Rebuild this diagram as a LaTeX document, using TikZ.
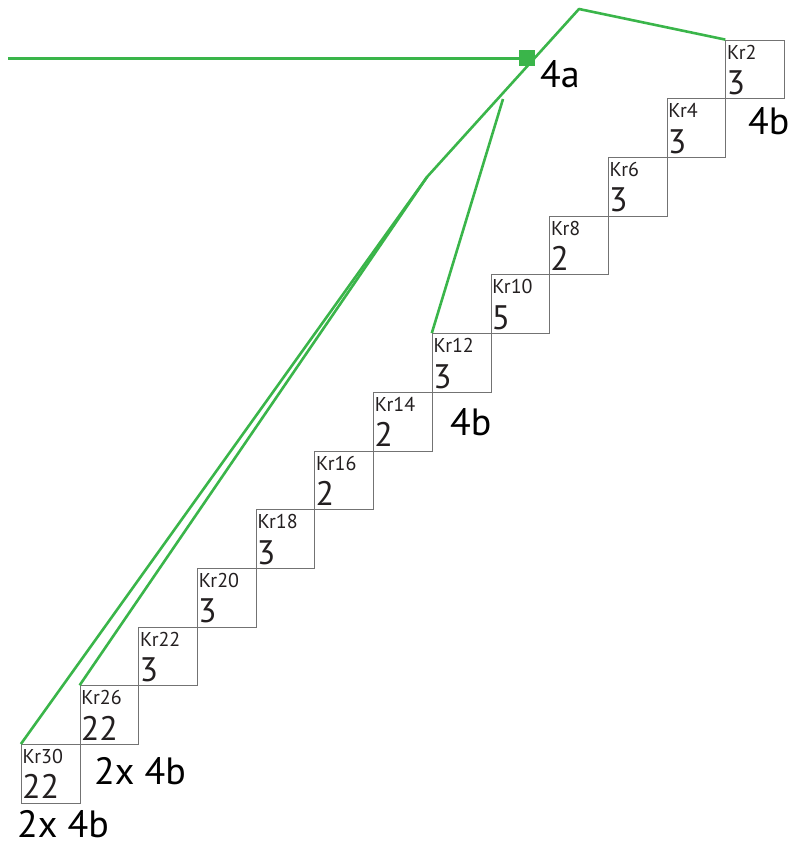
\documentclass[tikz,border=0pt]{standalone}
\usepackage{fontspec}
\setmainfont{PT Sans}
\usepackage{tikz}
\usetikzlibrary{calc}
\definecolor{kgreen}{HTML}{3AB54A}
\definecolor{ktext}{HTML}{231F20}
\tikzset{kbox/.style={draw=black!55,line width=.8pt,minimum size=58.7pt,inner sep=0pt},
kr/.style={anchor=base west,inner sep=0pt,xshift=1.6pt,yshift=-19.5pt,font=\fontsize{20}{20}\selectfont,text=ktext},
num/.style={anchor=base west,inner sep=0pt,xshift=1pt,yshift=4.6pt,font=\fontsize{34}{34}\selectfont,text=ktext},
lbl/.style={anchor=base west,inner sep=0pt,font=\fontsize{38}{38}\selectfont,text=black},
gline/.style={draw=kgreen,line width=2.6pt,line join=round}}

\begin{document}
\begin{tikzpicture}[x=1pt,y=-1pt]
\useasboundingbox(0,0)rectangle(792,845);
% staircase of cells
\node[kbox](k2)at(755.05,69.35){};\node[kr](t2)at(k2.north west){Kr2};\node[num](n2)at(k2.south west){3};
\node[kbox](k4)at(696.35,128.05){};\node[kr](t4)at(k4.north west){Kr4};\node[num](n4)at(k4.south west){3};
\node[kbox](k6)at(637.65,186.75){};\node[kr](t6)at(k6.north west){Kr6};\node[num](n6)at(k6.south west){3};
\node[kbox](k8)at(578.95,245.45){};\node[kr](t8)at(k8.north west){Kr8};\node[num](n8)at(k8.south west){2};
\node[kbox](k10)at(520.25,304.15){};\node[kr](t10)at(k10.north west){Kr10};\node[num](n10)at(k10.south west){5};
\node[kbox](k12)at(461.55,362.85){};\node[kr](t12)at(k12.north west){Kr12};\node[num](n12)at(k12.south west){3};
\node[kbox](k14)at(402.85,421.55){};\node[kr](t14)at(k14.north west){Kr14};\node[num](n14)at(k14.south west){2};
\node[kbox](k16)at(344.15,480.25){};\node[kr](t16)at(k16.north west){Kr16};\node[num](n16)at(k16.south west){2};
\node[kbox](k18)at(285.45,538.95){};\node[kr](t18)at(k18.north west){Kr18};\node[num](n18)at(k18.south west){3};
\node[kbox](k20)at(226.75,597.65){};\node[kr](t20)at(k20.north west){Kr20};\node[num](n20)at(k20.south west){3};
\node[kbox](k22)at(168.05,656.35){};\node[kr](t22)at(k22.north west){Kr22};\node[num](n22)at(k22.south west){3};
\node[kbox](k26)at(109.35,715.05){};\node[kr](t26)at(k26.north west){Kr26};\node[num](n26)at(k26.south west){22};
\node[kbox](k30)at(50.65,773.75){};\node[kr](t30)at(k30.north west){Kr30};\node[num](n30)at(k30.south west){22};
% green wiring
\coordinate(feed)at(8,58.3);\coordinate(bend)at(427,177);\coordinate(peak)at(579,9);\coordinate(tap)at(503,99);
\draw[gline](feed)--(527,58.3);
\draw[gline](k30.north west)--(bend)--(peak)--(k2.north west);
\draw[gline](bend)--(k26.north west);
\draw[gline](tap)--(k12.north west);
\node[fill=kgreen,minimum size=16pt,inner sep=0pt](sq)at(527,58.3){};
% labels
\node[lbl](l4a)at(540,87.3){4a};
\node[lbl](l4b)at(748,134.3){4b};
\node[lbl](l4bm)at(450,435){4b};
\node[lbl](l2x)at(94,784.3){2x 4b};
\node[lbl](l2xb)at(17,837.5){2x 4b};
\end{tikzpicture}
\end{document}
